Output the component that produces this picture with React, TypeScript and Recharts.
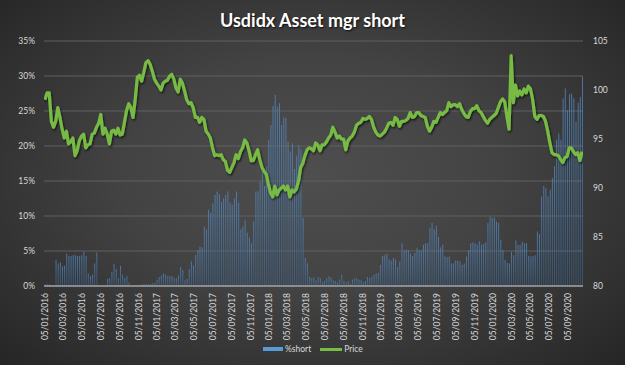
import React from 'react';
import { ComposedChart, Bar, Line, XAxis, YAxis, CartesianGrid } from 'recharts';

// Weekly observations starting Tuesday 5 Jan 2016
const firstWeek = '2016-01-05';

const shortPct: number[] = [
  0.2, 0.2, 0.2, 0.1, 0, 3.7, 3.2, 3.4, 2.8, 2.9,
  4.6, 4.3, 4.3, 4.4, 4.4, 4.3, 4.3, 4.4, 4.9, 4.3,
  1.8, 1.4, 1.6, 3.2, 4.8, 0, 0, 0, 0, 1.0,
  1.1, 2.0, 3.1, 2.4, 1.1, 2.9, 1.6, 1.1, 1.4, 0.5,
  0, 0, 0, 0, 0, 0.2, 0.3, 0.2, 0.2, 0.3,
  0.4, 0.5, 0.9, 1.3, 1.5, 1.8, 1.6, 1.4, 1.4, 1.4,
  1.1, 1.1, 1.5, 2.7, 2.3, 0.8, 1.0, 2.4, 3.5, 2.9,
  4.4, 5.1, 5.6, 5.5, 8.5, 8.1, 10.9, 10.5, 11.8, 13.0,
  13.5, 13.1, 12.0, 12.5, 13.0, 13.5, 11.9, 11.6, 12.5, 13.5,
  11.9, 8.1, 8.5, 9.4, 7.6, 6.9, 6.1, 9.2, 13.5, 13.5,
  14.9, 16.7, 14.3, 17.0, 20.9, 23.0, 25.7, 27.3, 25.6, 26.1,
  23.0, 24.1, 24.0, 20.6, 19.2, 20.4, 16.7, 18.6, 20.1, 19.5,
  9.7, 4.0, 3.2, 1.3, 1.1, 1.2, 0.8, 1.3, 1.1, 0.5,
  0.7, 1.1, 1.4, 1.2, 0.8, 0.7, 0.5, 0.9, 1.6, 0.7,
  0.5, 0.7, 0.3, 0.9, 1.1, 1.1, 0.9, 0.8, 0.5, 0.7,
  1.3, 1.1,
  1.3, 1.6, 1.8, 1.9, 3.0, 4.3, 4.4, 4.6, 3.8, 3.6,
  4.0, 3.8, 2.7, 3.5, 6.1, 5.1, 5.2, 5.1, 4.6, 4.3,
  4.7, 5.4, 5.1, 5.1, 5.9, 6.1, 6.1, 8.2, 9.0, 8.1,
  8.6, 7.0, 5.5, 5.9, 4.2, 4.1, 4.2, 3.2, 3.2, 3.6,
  3.6, 3.5, 3.0, 3.2, 4.2, 5.1, 6.1, 6.2, 6.1, 5.9,
  6.4, 5.9, 6.0, 6.2, 9.0, 9.9, 9.7, 9.8, 9.2, 9.0,
  6.6, 5.1, 3.7, 3.3, 3.2, 4.9, 4.4, 6.5, 5.9, 5.9,
  6.3, 6.1, 6.1, 4.3, 4.2, 4.3, 4.4, 7.8, 7.4, 12.8,
  14.3, 14.0, 12.8, 13.8, 15.4, 17.1, 20.9, 21.8, 20.9, 26.8,
  28.2, 25.1, 27.4, 27.5, 26.8, 23.5, 26.2, 27.0, 29.9,
];

const price: number[] = [
  99.0, 99.7, 99.7, 96.8, 96.2, 96.8, 98.2, 97.2, 96.0, 95.1,
  95.8, 94.5, 94.7, 95.1, 93.3, 93.8, 94.8, 95.3, 95.5, 94.1,
  94.4, 94.5, 95.5, 95.6, 96.2, 96.6, 97.5, 95.5, 96.1, 95.5,
  94.5, 95.8, 95.9, 95.5, 96.1, 95.4, 95.5, 96.7, 97.9, 98.6,
  98.2, 97.2, 99.0, 101.3, 101.5, 100.9, 101.8, 102.8, 103.0, 102.6,
  101.9, 101.1, 100.7, 100.4, 100.0, 100.7, 100.9, 101.0, 101.4, 101.6,
  101.1, 100.2, 99.8, 101.1, 100.7, 99.9, 99.0, 98.6, 98.7, 98.2,
  97.2, 97.2, 96.7, 97.2, 97.0, 95.8, 95.5, 95.1, 94.1, 93.3,
  93.4, 93.3, 93.4, 92.9, 92.7, 91.8, 91.6, 92.1, 92.6, 93.4,
  93.0, 93.7, 94.1, 94.9, 94.6, 93.8, 92.8, 92.8, 93.4, 93.9,
  92.9, 92.1, 91.7, 91.4, 90.4, 89.5, 89.1, 90.2, 89.3, 89.8,
  90.0, 90.2, 89.8, 90.2, 89.1, 89.8, 89.6, 89.9, 90.7, 92.1,
  92.5, 93.3, 93.9, 94.1, 94.0, 93.8, 94.6, 94.4, 93.8, 94.4,
  94.4, 94.7, 95.1, 95.4, 96.2, 95.7, 95.1, 95.3, 95.0, 95.0,
  93.9, 94.8, 95.1, 95.3, 95.7, 96.4, 96.6, 96.7, 97.1, 97.0,
  97.1, 97.3, 97.0, 96.2, 95.7, 95.4, 95.3, 95.5, 95.7, 96.1,
  96.6, 96.7, 96.4, 97.2, 97.0, 96.3, 96.8, 96.8, 96.9, 97.1,
  97.7, 97.2, 97.3, 97.7, 97.7, 97.4, 97.3, 97.2, 96.3, 95.8,
  96.2, 96.8, 96.7, 97.2, 97.7, 97.5, 97.7, 97.9, 98.7, 98.3,
  98.5, 98.5, 98.3, 98.6, 98.0, 97.6, 97.3, 97.2, 97.8, 98.1,
  98.1, 98.4, 97.9, 97.7, 97.3, 96.9, 96.6, 97.0, 97.2, 97.4,
  97.6, 98.2, 98.8, 99.1, 98.8, 97.3, 96.0, 103.5, 98.7, 100.5,
  99.4, 99.9, 99.5, 100.1, 99.7, 100.4, 100.1, 99.0, 97.3, 97.0,
  97.4, 97.4, 97.3, 96.8, 95.8, 94.6, 93.6, 93.4, 93.4, 93.3,
  92.9, 92.6, 93.1, 93.2, 94.1, 94.1, 93.7, 93.4, 93.6, 92.8, 93.7,
];

const xTickLabels: string[] = [
  '05/01/2016', '05/03/2016', '05/05/2016', '05/07/2016', '05/09/2016', '05/11/2016',
  '05/01/2017', '05/03/2017', '05/05/2017', '05/07/2017', '05/09/2017', '05/11/2017',
  '05/01/2018', '05/03/2018', '05/05/2018', '05/07/2018', '05/09/2018', '05/11/2018',
  '05/01/2019', '05/03/2019', '05/05/2019', '05/07/2019', '05/09/2019', '05/11/2019',
  '05/01/2020', '05/03/2020', '05/05/2020', '05/07/2020', '05/09/2020',
];
const leftTicks = [0, 5, 10, 15, 20, 25, 30, 35];
const rightTicks = [80, 85, 90, 95, 100, 105];
const xDomainStart = '2016-01-02';
const xDomainEnd = '2020-10-23';

const DAY = 86400000;
const isoToMs = (s: string) => {
  const [y, m, d] = s.split('-').map(Number);
  return Date.UTC(y, m - 1, d);
};
const labelToMs = (s: string) => {
  const [d, m, y] = s.split('/').map(Number);
  return Date.UTC(y, m - 1, d);
};
const start = isoToMs(firstWeek);
const data = shortPct.map((s, i) => ({ t: start + i * 7 * DAY, short: s, price: price[i] }));
const xTicks = xTickLabels.map(labelToMs);
const labelMap: Record<number, string> = {};
xTickLabels.forEach((l) => (labelMap[labelToMs(l)] = l));

const FONT = 'Lato, "Open Sans", sans-serif';
const TEXT = '#d9d9d9';

const XTick = (props: any) => {
  const { x, y, payload } = props;
  return (
    <text
      x={x}
      y={y}
      transform={`rotate(-90 ${x} ${y})`}
      textAnchor="end"
      dy="0.35em"
      fill={TEXT}
      fontSize={8.5}
      fontFamily={FONT}
    >
      {labelMap[payload.value] ?? ''}
    </text>
  );
};

export default function App() {
  return (
    <div
      style={{
        position: 'absolute',
        left: 0,
        top: 0,
        width: 625,
        height: 365,
        overflow: 'hidden',
        background:
          'radial-gradient(ellipse 75% 80% at 50% 48%, #4e4e4e 0%, #434343 40%, #2d2d2d 80%, #212121 100%)',
      }}
    >
      <div
        style={{
          position: 'absolute',
          left: 0,
          width: 625,
          top: 9,
          textAlign: 'center',
          color: '#ffffff',
          fontFamily: FONT,
          fontWeight: 700,
          fontSize: 18,
          lineHeight: '22px',
          textShadow: '1px 1px 2px rgba(0,0,0,0.8)',
        }}
      >
        Usdidx Asset mgr short
      </div>
      <div style={{ position: 'absolute', left: 0, top: 0 }}>
        <ComposedChart
          width={625}
          height={365}
          data={data}
          margin={{ top: 41, right: 0, bottom: 19, left: 0 }}
        >
          <defs>
            <linearGradient id="barGrad" x1="0" y1="0" x2="0" y2="1">
              <stop offset="0%" stopColor="#5389c4" stopOpacity={0.85} />
              <stop offset="100%" stopColor="#3b6490" stopOpacity={0.7} />
            </linearGradient>
            <filter id="lineShadow" x="-5%" y="-5%" width="110%" height="120%">
              <feDropShadow dx="1" dy="1.5" stdDeviation="1" floodColor="#000" floodOpacity="0.7" />
            </filter>
          </defs>
          <CartesianGrid
            yAxisId="left"
            vertical={false}
            stroke="#606060"
            strokeWidth={1}
          />
          <XAxis
            dataKey="t"
            type="number"
            scale="linear"
            domain={[isoToMs(xDomainStart), isoToMs(xDomainEnd)]}
            ticks={xTicks}
            interval={0}
            tick={<XTick />}
            tickLine={false}
            tickSize={0}
            tickMargin={7}
            axisLine={{ stroke: '#c8c8c8', strokeWidth: 1 }}
            height={60}
            allowDataOverflow
          />
          <YAxis
            yAxisId="left"
            orientation="left"
            width={44}
            domain={[0, 35]}
            ticks={leftTicks}
            interval={0}
            tickFormatter={(v: number) => `${v}%`}
            axisLine={false}
            tickLine={false}
            tickSize={0}
            tickMargin={9}
            tick={{ fill: TEXT, fontSize: 8.5, fontFamily: FONT }}
          />
          <YAxis
            yAxisId="right"
            orientation="right"
            width={42}
            domain={[80, 105]}
            ticks={rightTicks}
            interval={0}
            axisLine={false}
            tickLine={false}
            tickSize={0}
            tickMargin={10}
            tick={{ fill: TEXT, fontSize: 8.5, fontFamily: FONT }}
            allowDataOverflow
          />
          <Bar
            yAxisId="left"
            dataKey="short"
            name="%short"
            fill="url(#barGrad)"
            barSize={0.9}
            isAnimationActive={false}
          />
          <Line
            yAxisId="right"
            dataKey="price"
            name="Price"
            type="linear"
            stroke="#77bb44"
            strokeWidth={3.2}
            dot={false}
            activeDot={false}
            filter="url(#lineShadow)"
            strokeLinejoin="round"
            isAnimationActive={false}
          />
        </ComposedChart>
      </div>
      <div
        style={{
          position: 'absolute',
          left: 263,
          top: 343,
          height: 12,
          display: 'flex',
          alignItems: 'center',
          fontFamily: FONT,
          fontSize: 8.5,
          color: TEXT,
        }}
      >
        <div style={{ width: 20, height: 4, background: '#5b9bd5', marginRight: 2 }} />
        <span style={{ marginRight: 9 }}>%short</span>
        <div style={{ width: 22, height: 3, background: '#77bb44', marginRight: 2 }} />
        <span>Price</span>
      </div>
    </div>
  );
}
